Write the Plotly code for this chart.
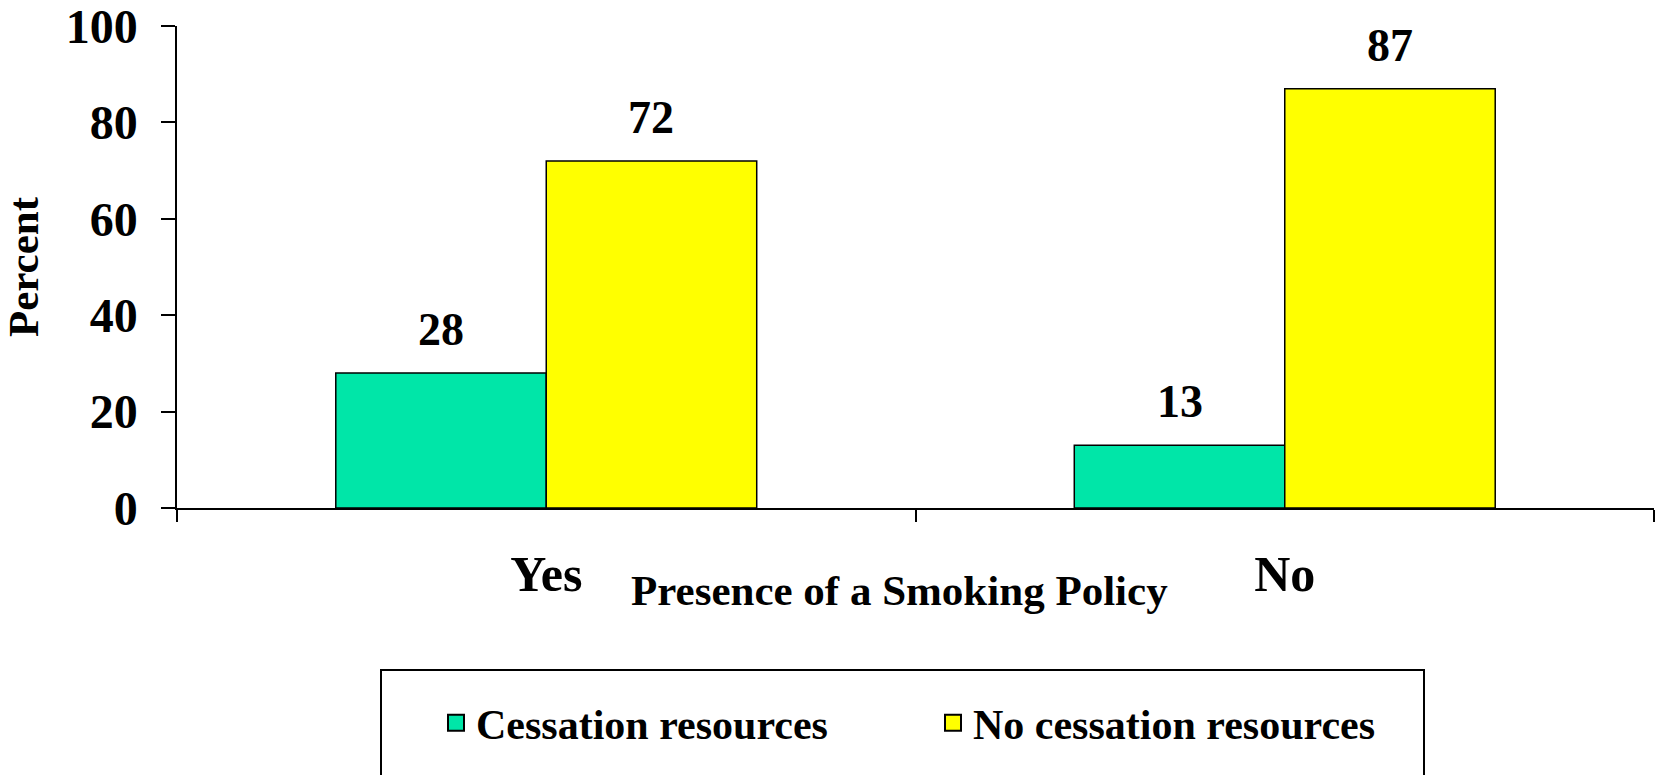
import plotly.graph_objects as go

categories = ["Yes", "No"]
series_names = ["Cessation resources", "No cessation resources"]
cessation = [28, 13]
no_cessation = [72, 87]
y_ticks = [0, 20, 40, 60, 80, 100]

colors = ["#00E6A8", "#FFFF00"]
FONT = "Liberation Serif"
W, H = 1657, 775
ML, MR, MT, MB = 177, 3, 26, 267

bar_w = 0.285
offsets = [-bar_w, 0.0]
series = [cessation, no_cessation]

fig = go.Figure()
for name, vals, col, off in zip(series_names, series, colors, offsets):
    fig.add_trace(go.Bar(
        x=categories, y=vals, name=name, width=bar_w, offset=off,
        marker=dict(color=col, line=dict(color="#000000", width=1.5)),
        showlegend=False,
    ))
    # value labels above bars
    for i, v in enumerate(vals):
        fig.add_annotation(
            x=i + off + bar_w / 2, y=v, xref="x", yref="y",
            text=str(v), showarrow=False, yanchor="bottom", yshift=16,
            font=dict(family=FONT, size=46, color="#000000", weight="bold"),
        )

# legend entries (dummy markers for larger swatches)
for name, col in zip(series_names, colors):
    fig.add_trace(go.Scatter(
        x=[None], y=[None], mode="markers", name=name,
        marker=dict(symbol="square", size=22, color=col, line=dict(color="#000000", width=2)),
    ))

pw = W - ML - MR
ph = H - MT - MB

def px_to_paper_x(px):
    return (px - ML) / pw

def px_to_paper_y(py):
    return (H - MB - py) / ph

fig.add_shape(type="rect", xref="paper", yref="paper",
              x0=px_to_paper_x(381), x1=px_to_paper_x(1424),
              y0=px_to_paper_y(670), y1=px_to_paper_y(820),
              line=dict(color="#000000", width=2), fillcolor="rgba(0,0,0,0)")

fig.add_annotation(
    x=px_to_paper_x(899), y=0, xref="paper", yref="paper",
    text="Presence of a Smoking Policy", showarrow=False,
    yanchor="middle", yshift=-82,
    font=dict(family=FONT, size=43, color="#000000", weight="bold"),
)

fig.update_layout(
    width=W, height=H,
    margin=dict(l=ML, r=MR, t=MT, b=MB, autoexpand=False),
    paper_bgcolor="white", plot_bgcolor="white",
    font=dict(family=FONT, color="#000000", weight="bold"),
    barmode="group",
    legend=dict(
        orientation="h", x=px_to_paper_x(436), xanchor="left",
        y=px_to_paper_y(723), yanchor="middle",
        font=dict(family=FONT, size=42, color="#000000", weight="bold"),
        bgcolor="rgba(0,0,0,0)", borderwidth=0,
        itemsizing="trace", entrywidth=452, itemwidth=30,
    ),
    xaxis=dict(
        type="category", range=[-0.5, 1.5], tickson="boundaries",
        ticks="outside", ticklen=12, tickwidth=1.5, tickcolor="#000000",
        showline=True, linecolor="#000000", linewidth=1.5,
        showgrid=False, zeroline=False,
        tickfont=dict(family=FONT, size=50, color="#000000", weight="bold"),
        ticklabelstandoff=21, ticklabeloverflow="allow",
    ),
    yaxis=dict(
        range=[0, 100], tickvals=y_ticks,
        ticks="outside", ticklen=14, tickwidth=1.5, tickcolor="#000000",
        showline=True, linecolor="#000000", linewidth=1.5,
        showgrid=False, zeroline=False,
        tickfont=dict(family=FONT, size=48, color="#000000", weight="bold"),
        ticklabelstandoff=14, ticklabeloverflow="allow",
        title=dict(text="Percent", standoff=37,
                   font=dict(family=FONT, size=43, color="#000000", weight="bold")),
    ),
)

fig.write_html("out.html", config={"displayModeBar": False},
               post_script="document.body.style.margin='0';")
